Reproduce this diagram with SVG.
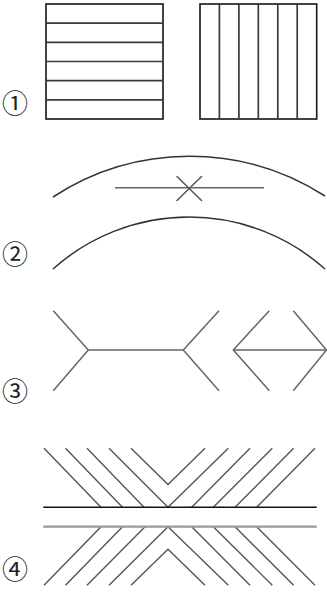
<svg xmlns="http://www.w3.org/2000/svg" width="327" height="596" viewBox="0 0 327 596">
<style>
.bg{fill:#fff}
.box{fill:none;stroke:#222;stroke-width:1.7}
.in{stroke:#3a3a3a;stroke-width:1.7;fill:none}
.arc{fill:none;stroke:#333;stroke-width:1.5}
.ln{stroke:#666;stroke-width:1.5;fill:none}
.dk{stroke:#555;stroke-width:1.5;fill:none;stroke-linecap:round}
.diag{stroke:#555;stroke-width:1.4;fill:none}
.blk{stroke:#111;stroke-width:1.6}
.gry{stroke:#999;stroke-width:2.2}
.lbl{font-family:"Noto Sans CJK JP","DejaVu Sans",sans-serif;font-size:26px;fill:#222;text-anchor:middle}
</style>
<rect class="bg" x="0" y="0" width="327" height="596"/>
<g id="fig1">
  <rect class="box" x="46" y="4" width="117" height="115"/>
  <path class="in" d="M46,23.2H163M46,42.3H163M46,61.5H163M46,80.7H163M46,99.8H163"/>
  <rect class="box" x="200" y="4" width="116.7" height="115"/>
  <path class="in" d="M219.4,4V119M238.9,4V119M258.3,4V119M277.8,4V119M297.2,4V119"/>
  <text class="lbl" x="15" y="113">①</text>
</g>
<g id="fig2">
  <path class="arc" d="M53,197 A250,250 0 0,1 325,196"/>
  <path class="arc" d="M53,269 A204,204 0 0,1 325,269"/>
  <path class="ln" d="M115,187.7H264"/>
  <path class="dk" d="M177,176.5L201.5,200.5M201.5,176.5L177,200.5"/>
  <text class="lbl" x="15" y="264">②</text>
</g>
<g id="fig3">
  <path class="ln" d="M88.3,350H183.3"/>
  <path class="ln" d="M53.3,310.7L88.3,350L53.3,390.7"/>
  <path class="ln" d="M219,310.7L183.3,350L219,390.7"/>
  <path class="ln" d="M233.3,350H326.5"/>
  <path class="ln" d="M269.3,310.7L233.3,350L269.3,390.7"/>
  <path class="ln" d="M293.3,310.7L326.5,350L293.3,390.7"/>
  <text class="lbl" x="15" y="401">③</text>
</g>
<g id="fig4">
  <path class="diag" d="M44,448.3L101,507.3M65.5,448.3L122.5,507.3M87,448.3L144,507.3M109,448.3L168,507.3"/>
  <path class="diag" d="M131,448.3L168,484.5L205,448.3"/>
  <path class="diag" d="M168,507.3L228.3,448.3M191.7,507.3L250,448.3M213.3,507.3L272.3,448.3M235,507.3L293.6,448.3M256.7,507.3L315,448.3"/>
  <path class="diag" d="M44,585.3L101,526.7M65.5,585.3L122.5,526.7M87,585.3L145,526.7M109,585.3L168,526.7"/>
  <path class="diag" d="M131,585.3L168,549.3L205,585.3"/>
  <path class="diag" d="M168,526.7L228.3,585.3M191.7,526.7L250,585.3M213.3,526.7L272.3,585.3M235,526.7L293.6,585.3M256.7,526.7L315,585.3"/>
  <line class="blk" x1="43.3" y1="507.3" x2="316.7" y2="507.3"/>
  <line class="gry" x1="43.3" y1="526.7" x2="316.7" y2="526.7"/>
  <text class="lbl" x="15" y="579">④</text>
</g>
</svg>
